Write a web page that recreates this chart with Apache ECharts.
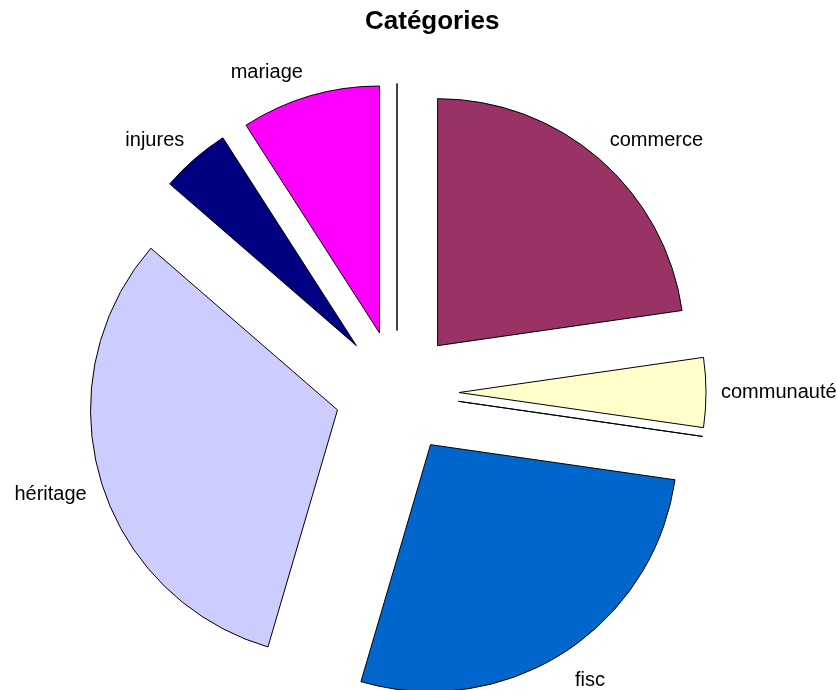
<!DOCTYPE html>
<html>
<head>
<meta charset="utf-8">
<script src="https://cdn.jsdelivr.net/npm/echarts@6/dist/echarts.min.js"></script>
<style>
  html, body { margin: 0; padding: 0; background: #ffffff; }
  #chart { width: 837px; height: 690px; }
</style>
</head>
<body>
<div id="chart"></div>
<script>
// Slice names and counts, clockwise from twelve o'clock.
// The two unnamed entries are empty categories (drawn as bare edges).
const categories = ['commerce', 'communauté', '', 'fisc', 'héritage', 'injures', 'mariage', ''];
const counts = [25, 5, 0, 30, 35, 5, 10, 0];

// Fill colour of each slice.
const sliceColors = ['#993366', '#FFFFCC', '#FFFFFF', '#0066CC', '#CCCCFF', '#000080', '#FF00FF', '#FFFFFF'];

// Label placement: radial reach beyond the rim and horizontal shift of each label.
const labelReach = [25, 15, 0, 33, 54, 25, 25, 0];
const labelShift = [-6, 0, 0, -7, -38, -6, 0, 0];

const pieData = categories.map(function (name, i) {
  return {
    name: name,
    value: counts[i],
    selected: true,
    itemStyle: { color: sliceColors[i] },
    label: { show: name !== '' },
    labelLine: { length: labelReach[i], length2: labelShift[i] }
  };
});

const chart = echarts.init(document.getElementById('chart'), null, { renderer: 'canvas' });

chart.setOption({
  animation: false,
  backgroundColor: '#ffffff',
  title: {
    text: 'Catégories',
    left: 360,
    top: 4,
    textStyle: {
      fontFamily: 'Liberation Sans, Arial, sans-serif',
      fontSize: 26,
      fontWeight: 'bold',
      color: '#000000'
    }
  },
  series: [{
    type: 'pie',
    center: [397, 392.5],
    radius: 247,
    startAngle: 90,
    clockwise: true,
    selectedMode: 'multiple',
    selectedOffset: 62,
    avoidLabelOverlap: false,
    emphasis: { disabled: true },
    itemStyle: { borderColor: '#000000', borderWidth: 1 },
    label: {
      position: 'outside',
      color: '#000000',
      fontFamily: 'Liberation Sans, Arial, sans-serif',
      fontSize: 20,
      distanceToLabelLine: 0
    },
    labelLine: { show: false },
    data: pieData
  }]
});
</script>
</body>
</html>
